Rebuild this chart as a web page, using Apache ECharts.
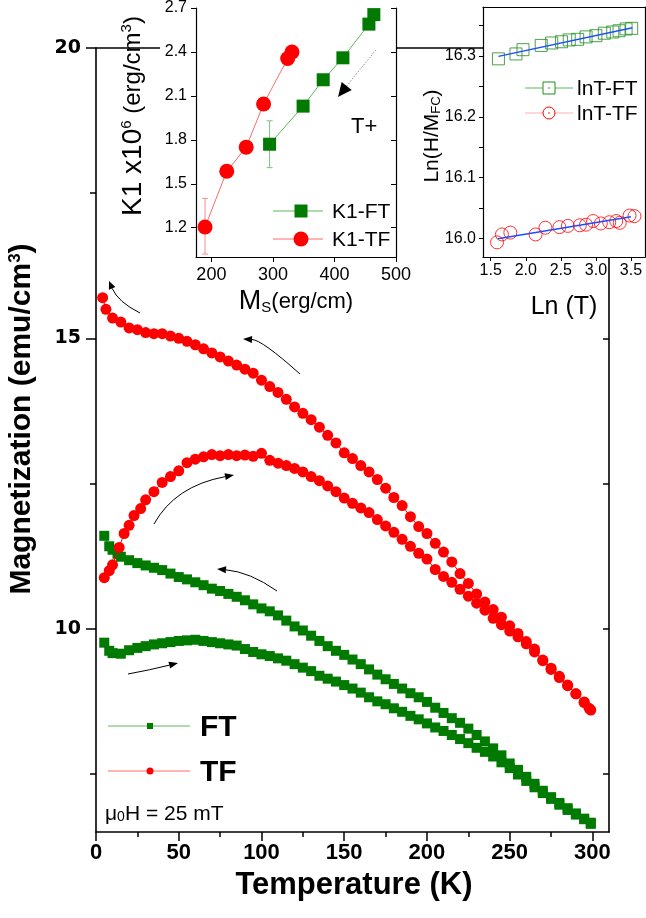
<!DOCTYPE html>
<html><head><meta charset="utf-8">
<script src="https://cdn.jsdelivr.net/npm/echarts@6.0.0/dist/echarts.min.js"></script>
<style>html,body{margin:0;padding:0;background:#fff}#c{width:646px;height:918px}</style>
</head><body><div id="c"></div>
<script>
// ---------- main panel data: [T (K), M (emu/cm3)] ----------
const ftCool = [[5,11.60],[8,11.42],[10,11.36],[13,11.29],[15,11.24],[20,11.18],[25,11.13],[30,11.09],[35,11.05],[40,11.01],[45,10.95],[50,10.89],[55,10.85],[60,10.80],[65,10.75],[70,10.69],[75,10.65],[80,10.60],[85,10.55],[90,10.49],[95,10.42],[100,10.35],[105,10.30],[110,10.23],[115,10.14],[120,10.04],[125,9.97],[130,9.88],[135,9.79],[140,9.70],[145,9.62],[150,9.55],[155,9.47],[160,9.39],[165,9.30],[170,9.21],[175,9.13],[180,9.05],[185,8.97],[190,8.89],[195,8.82],[200,8.74],[205,8.64],[210,8.55],[215,8.46],[220,8.38],[225,8.28],[230,8.17],[235,8.06],[240,7.94],[245,7.82],[250,7.68],[255,7.57],[260,7.45],[265,7.33],[270,7.21],[275,7.10],[280,7.00],[285,6.91],[290,6.82],[295,6.73],[299,6.64]];
const ftWarm = [[5,9.76],[8,9.62],[10,9.58],[15,9.57],[20,9.63],[25,9.67],[30,9.70],[35,9.73],[40,9.75],[45,9.77],[50,9.79],[55,9.80],[60,9.81],[65,9.79],[70,9.77],[75,9.75],[80,9.73],[85,9.71],[90,9.65],[95,9.60],[100,9.56],[105,9.53],[110,9.49],[115,9.45],[120,9.39],[125,9.33],[130,9.27],[135,9.19],[140,9.14],[145,9.09],[150,9.03],[155,8.97],[160,8.90],[165,8.82],[170,8.75],[175,8.70],[180,8.63],[185,8.57],[190,8.50],[195,8.44],[200,8.37],[205,8.30],[210,8.24],[215,8.17],[220,8.10],[225,8.03],[230,7.95],[235,7.88],[240,7.80],[245,7.70],[250,7.60],[255,7.49],[260,7.38],[265,7.27],[270,7.17],[275,7.07],[280,6.97],[285,6.88],[290,6.80],[295,6.72],[299,6.66]];
const tfCool = [[4,15.70],[6,15.50],[10,15.35],[15,15.28],[20,15.18],[25,15.15],[30,15.10],[35,15.08],[40,15.08],[45,15.04],[50,15.00],[55,14.95],[60,14.89],[65,14.82],[70,14.75],[75,14.68],[80,14.61],[85,14.54],[90,14.47],[95,14.40],[100,14.28],[105,14.17],[110,14.07],[115,13.95],[120,13.82],[125,13.71],[130,13.60],[135,13.47],[140,13.33],[145,13.20],[150,13.03],[155,12.93],[160,12.81],[165,12.70],[170,12.57],[175,12.42],[180,12.26],[185,12.12],[190,11.93],[195,11.76],[200,11.64],[205,11.47],[210,11.32],[215,11.15],[220,10.95],[225,10.78],[230,10.60],[235,10.46],[240,10.33],[245,10.20],[250,10.05],[255,9.92],[260,9.78],[265,9.65],[270,9.45],[275,9.30],[280,9.16],[285,9.02],[290,8.88],[295,8.73],[299,8.60]];
const tfWarm = [[5,10.88],[8,11.00],[10,11.10],[14,11.40],[17,11.64],[20,11.78],[23,11.95],[27,12.07],[30,12.22],[35,12.36],[40,12.52],[45,12.62],[50,12.72],[55,12.86],[60,12.92],[65,12.96],[70,13.00],[75,12.98],[80,13.00],[85,12.98],[90,12.99],[95,12.97],[100,13.02],[105,12.90],[110,12.85],[115,12.81],[120,12.76],[125,12.70],[130,12.62],[135,12.55],[140,12.46],[145,12.36],[150,12.25],[155,12.16],[160,12.08],[165,12.00],[170,11.88],[175,11.77],[180,11.66],[185,11.54],[190,11.42],[195,11.30],[200,11.20],[205,11.02],[210,10.90],[215,10.80],[220,10.68],[225,10.56],[230,10.44],[235,10.32],[240,10.18],[245,10.07],[250,9.96],[255,9.86],[260,9.74],[265,9.60],[270,9.46],[275,9.32],[280,9.18],[285,9.03],[290,8.88],[295,8.74],[298,8.63]];
const tempTicks = [0,50,100,150,200,250,300];
const tempMinorTicks = [25,75,125,175,225,275];
const magTicks = [10,15,20];
const magMinorTicks = [7.5,12.5,17.5];
const magRightTicks = [7.5,10,12.5,15,17.5];

// ---------- inset 1: K1 vs Ms ----------
const msFT = [294.6,349,381.7,413.7,456,464];
const k1FT = [1.77,2.03,2.21,2.36,2.59,2.655];
const msTF = [189.7,225,256.6,284.8,324,331];
const k1TF = [1.205,1.585,1.75,2.045,2.355,2.40];
const errFT = [[294.6,1.61,1.93]];
const errTF = [[189.7,1.02,1.40]];
const msTicks = [200,300,400,500];
const k1Ticks = [1.2,1.5,1.8,2.1,2.4,2.7];

// ---------- inset 2: Ln(H/M) vs Ln(T) ----------
const lnTFT = [1.61,1.86,1.96,2.22,2.37,2.51,2.62,2.74,2.86,3.00,3.12,3.24,3.33,3.43,3.51];
const lnHFT = [16.295,16.303,16.310,16.317,16.321,16.323,16.326,16.327,16.331,16.333,16.337,16.339,16.341,16.344,16.345];
const lnTTF = [1.59,1.66,1.78,2.14,2.28,2.48,2.60,2.77,2.86,2.96,3.07,3.19,3.29,3.34,3.48,3.55];
const lnHTF = [15.994,16.007,16.010,16.007,16.018,16.019,16.021,16.022,16.023,16.029,16.025,16.027,16.029,16.026,16.038,16.037];
const fitFT = [[1.61,16.299],[3.52,16.346]];
const fitTF = [[1.60,16.000],[3.50,16.036]];
const lnTTicks = [1.5,2.0,2.5,3.0,3.5];
const lnHTicks = [16.0,16.1,16.2,16.3];
const lnHMinor = [16.0,16.05,16.1,16.15,16.2,16.25,16.3,16.35];

const G = '#007a00', R = '#ff0000', LG = '#5cb85c', LR = '#ff6a6a', G2 = '#1e8c1e', BLUE = '#1f4cff';
const FONT = '"Liberation Sans", Arial, sans-serif';
const zip = (a,b) => a.map((v,i)=>[v,b[i]]);
const line = (w) => ({show:true, onZero:false, lineStyle:{color:'#000', width:w}});
const noLabel = {show:false};
const noSplit = {show:false};

const chart = echarts.init(document.getElementById('c'), null, {renderer:'canvas', width:646, height:918});

function arrow(p0, c, p1, hl, hw, style) {
  const ang = Math.atan2(p1[1]-c[1], p1[0]-c[0]);
  const bx = p1[0]-hl*Math.cos(ang), by = p1[1]-hl*Math.sin(ang);
  const nx = -Math.sin(ang), ny = Math.cos(ang);
  return [
    {type:'bezierCurve', z:20, silent:true, shape:{x1:p0[0],y1:p0[1],x2:bx,y2:by,cpx1:c[0],cpy1:c[1]}, style:Object.assign({stroke:'#000', lineWidth:1, fill:null}, style||{})},
    {type:'polygon', z:20, silent:true, shape:{points:[p1,[bx+nx*hw,by+ny*hw],[bx-nx*hw,by-ny*hw]]}, style:{fill:'#000'}}
  ];
}

const graphics = [
  // inset backgrounds
  {type:'rect', z:3, silent:true, shape:{x:160,y:0,width:236,height:257}, style:{fill:'#fff'}},
  {type:'rect', z:3, silent:true, shape:{x:483,y:7,width:163,height:250}, style:{fill:'#fff'}},
  // main axis titles
  {type:'text', z:20, x:354, y:885, style:{text:'Temperature (K)', font:'bold 31px '+FONT, fill:'#000', align:'center', verticalAlign:'middle'}},
  {type:'text', z:20, x:22, y:419, rotation:Math.PI/2, style:{text:'{a|Magnetization (emu/cm}{s|3}{a|)}', fill:'#000', align:'center', verticalAlign:'middle',
    rich:{a:{fontFamily:FONT, fontWeight:'bold', fontSize:30, fill:'#000'}, s:{fontFamily:FONT, fontWeight:'bold', fontSize:17, verticalAlign:'top', fill:'#000'}}}},
  // main legend
  {type:'line', z:20, shape:{x1:108,y1:726,x2:190,y2:726}, style:{stroke:LG, lineWidth:1}},
  {type:'rect', z:21, shape:{x:147,y:723,width:6,height:6}, style:{fill:G}},
  {type:'text', z:20, x:200, y:728, style:{text:'FT', font:'bold 30px '+FONT, fill:'#000', verticalAlign:'middle'}},
  {type:'line', z:20, shape:{x1:108,y1:771,x2:190,y2:771}, style:{stroke:LR, lineWidth:1}},
  {type:'circle', z:21, shape:{cx:150,cy:771,r:3.5}, style:{fill:R}},
  {type:'text', z:20, x:200, y:773, style:{text:'TF', font:'bold 30px '+FONT, fill:'#000', verticalAlign:'middle'}},
  {type:'text', z:20, x:105, y:814, style:{text:'{a|μ}{s|0}{a|H = 25 mT}', verticalAlign:'middle',
    rich:{a:{fontFamily:FONT, fontSize:21, fill:'#000'}, s:{fontFamily:FONT, fontSize:14, verticalAlign:'bottom', fill:'#000'}}}},
  // inset 1 titles & annotations
  {type:'text', z:20, x:133, y:116, rotation:Math.PI/2, style:{text:'{a|K1 x10}{s|6}{b| (erg/cm}{s|3}{b|)}', align:'center', verticalAlign:'middle',
    rich:{a:{fontFamily:FONT, fontSize:28, fill:'#000'}, b:{fontFamily:FONT, fontSize:24, fill:'#000'}, s:{fontFamily:FONT, fontSize:15, verticalAlign:'top', fill:'#000'}}}},
  {type:'text', z:20, x:296, y:302, style:{text:'{a|M}{s|S}{b|(erg/cm)}', align:'center', verticalAlign:'middle',
    rich:{a:{fontFamily:FONT, fontSize:27, fill:'#000'}, b:{fontFamily:FONT, fontSize:22, fill:'#000'}, s:{fontFamily:FONT, fontSize:15, verticalAlign:'bottom', fill:'#000'}}}},
  {type:'text', z:20, x:351, y:127, style:{text:'T+', font:'22px '+FONT, fill:'#000', verticalAlign:'middle'}},
  {type:'line', z:20, shape:{x1:273,y1:211,x2:323,y2:211}, style:{stroke:LG, lineWidth:1}},
  {type:'rect', z:21, shape:{x:294.5,y:204.5,width:13,height:13}, style:{fill:G}},
  {type:'text', z:20, x:332, y:212, style:{text:'K1-FT', font:'21px '+FONT, fill:'#000', verticalAlign:'middle'}},
  {type:'line', z:20, shape:{x1:273,y1:239,x2:323,y2:239}, style:{stroke:LR, lineWidth:1}},
  {type:'circle', z:21, shape:{cx:301,cy:239,r:7.5}, style:{fill:R}},
  {type:'text', z:20, x:332, y:240, style:{text:'K1-TF', font:'21px '+FONT, fill:'#000', verticalAlign:'middle'}},
  // inset 2 titles & legend
  {type:'text', z:20, x:432, y:136, rotation:Math.PI/2, style:{text:'{a|Ln(H/M}{s|FC}{a|)}', align:'center', verticalAlign:'middle',
    rich:{a:{fontFamily:FONT, fontSize:21, fill:'#000'}, s:{fontFamily:FONT, fontSize:13, verticalAlign:'bottom', fill:'#000'}}}},
  {type:'text', z:20, x:564, y:307, style:{text:'Ln (T)', font:'25px '+FONT, fill:'#000', align:'center', verticalAlign:'middle'}},
  {type:'line', z:20, shape:{x1:525,y1:88,x2:573,y2:88}, style:{stroke:LG, lineWidth:1}},
  {type:'rect', z:21, shape:{x:543,y:82,width:12,height:12}, style:{fill:'#fff', stroke:G2, lineWidth:1}},
  {type:'circle', z:22, shape:{cx:549,cy:88,r:0.8}, style:{fill:G2}},
  {type:'text', z:20, x:577, y:89, style:{text:'lnT-FT', font:'21px '+FONT, fill:'#000', verticalAlign:'middle'}},
  {type:'line', z:20, shape:{x1:525,y1:113,x2:573,y2:113}, style:{stroke:'#ffb0b0', lineWidth:1}},
  {type:'circle', z:21, shape:{cx:549,cy:113,r:6}, style:{fill:'#fff', stroke:R, lineWidth:1}},
  {type:'circle', z:22, shape:{cx:549,cy:113,r:0.8}, style:{fill:R}},
  {type:'text', z:20, x:577, y:114, style:{text:'lnT-TF', font:'21px '+FONT, fill:'#000', verticalAlign:'middle'}}
];
// main panel arrows
graphics.push(...arrow([140,313],[118,302],[109,281],8,3.5));
graphics.push(...arrow([300,374],[262,340],[243,339],9,3.5));
graphics.push(...arrow([154,524],[175,486],[234,475],9,3.5));
graphics.push(...arrow([277,591],[250,572],[217,569],9,3.5));
graphics.push(...arrow([128,674],[150,670],[178,663],9,3.5));
// inset 1 dotted arrow
graphics.push(...arrow([376,50],[357,73],[338,97],14,6.4,{stroke:'#888', lineDash:[1.5,1.5]}));

const errRender = (color) => function(params, api){
  const x = api.value(0);
  const a = api.coord([x, api.value(1)]), b = api.coord([x, api.value(2)]);
  const s = {stroke:color, lineWidth:1};
  return {type:'group', children:[
    {type:'line', shape:{x1:a[0],y1:a[1],x2:b[0],y2:b[1]}, style:s},
    {type:'line', shape:{x1:a[0]-3,y1:a[1],x2:a[0]+3,y2:a[1]}, style:s},
    {type:'line', shape:{x1:b[0]-3,y1:b[1],x2:b[0]+3,y2:b[1]}, style:s}
  ]};
};

const option = {
  animation:false,
  backgroundColor:'#fff',
  grid:[
    {left:96, top:48, width:513, height:784},
    {left:196, top:6, width:200, height:251},
    {left:483, top:7, width:162, height:250}
  ],
  xAxis:[
    {gridIndex:0, type:'value', min:0, max:310, position:'bottom', z:1, axisLine:line(1.6),
      axisTick:{show:true, customValues:tempTicks, length:9, lineStyle:{color:'#000', width:1.5}},
      axisLabel:{show:true, customValues:tempTicks, color:'#000', fontFamily:FONT, fontWeight:'bold', fontSize:22, margin:10}, splitLine:noSplit},
    {gridIndex:0, type:'value', min:0, max:310, position:'bottom', z:1, axisLine:{show:false},
      axisTick:{show:true, customValues:tempMinorTicks, length:5, lineStyle:{color:'#000', width:1.5}}, axisLabel:noLabel, splitLine:noSplit},
    {gridIndex:0, type:'value', min:0, max:310, position:'top', z:1, axisLine:line(1.6), axisTick:{show:false}, axisLabel:noLabel, splitLine:noSplit},
    {gridIndex:1, type:'value', min:175, max:500, position:'bottom', z:10, axisLine:line(1.2),
      axisTick:{show:true, customValues:msTicks, length:5, lineStyle:{color:'#000'}},
      axisLabel:{show:true, customValues:msTicks, color:'#000', fontFamily:FONT, fontSize:18, margin:9}, splitLine:noSplit},
    {gridIndex:2, type:'value', min:1.39, max:3.7, position:'bottom', z:10, axisLine:line(1.2),
      axisTick:{show:true, customValues:lnTTicks, length:4, lineStyle:{color:'#000'}},
      axisLabel:{show:true, customValues:lnTTicks, color:'#000', fontFamily:FONT, fontSize:16, margin:6, formatter:v=>v.toFixed(1)}, splitLine:noSplit},
    {gridIndex:2, type:'value', min:1.39, max:3.7, position:'top', z:10, axisLine:line(1.2), axisTick:{show:false}, axisLabel:noLabel, splitLine:noSplit}
  ],
  yAxis:[
    {gridIndex:0, type:'value', min:6.5, max:20, position:'left', z:1, axisLine:line(1.6),
      axisTick:{show:true, customValues:magTicks, length:10, lineStyle:{color:'#000', width:1.5}},
      axisLabel:{show:true, customValues:magTicks, color:'#000', fontFamily:'"DejaVu Sans", sans-serif', fontWeight:'bold', fontSize:19, margin:15}, splitLine:noSplit},
    {gridIndex:0, type:'value', min:6.5, max:20, position:'left', z:1, axisLine:{show:false},
      axisTick:{show:true, customValues:magMinorTicks, length:6, lineStyle:{color:'#000', width:1.5}}, axisLabel:noLabel, splitLine:noSplit},
    {gridIndex:0, type:'value', min:6.5, max:20, position:'right', z:1, axisLine:line(1.6),
      axisTick:{show:true, inside:true, customValues:magRightTicks, length:6, lineStyle:{color:'#000', width:1.5}}, axisLabel:noLabel, splitLine:noSplit},
    {gridIndex:1, type:'value', min:1.0, max:2.7, position:'left', z:10, axisLine:line(1.2),
      axisTick:{show:true, customValues:k1Ticks, length:5, lineStyle:{color:'#000'}},
      axisLabel:{show:true, customValues:k1Ticks, color:'#000', fontFamily:FONT, fontSize:16, margin:9, formatter:v=>v.toFixed(1)}, splitLine:noSplit},
    {gridIndex:1, type:'value', min:1.0, max:2.7, position:'right', z:10, axisLine:line(1.2),
      axisTick:{show:true, inside:true, customValues:k1Ticks, length:5, lineStyle:{color:'#000'}}, axisLabel:noLabel, splitLine:noSplit},
    {gridIndex:2, type:'value', min:15.97, max:16.38, position:'left', z:10, axisLine:line(1.2),
      axisTick:{show:true, customValues:lnHMinor, length:4, lineStyle:{color:'#000'}},
      axisLabel:{show:true, customValues:lnHTicks, color:'#000', fontFamily:FONT, fontSize:16, margin:7, formatter:v=>v.toFixed(1)}, splitLine:noSplit},
    {gridIndex:2, type:'value', min:15.97, max:16.38, position:'right', z:10, axisLine:line(1.2), axisTick:{show:false}, axisLabel:noLabel, splitLine:noSplit}
  ],
  series:[
    {type:'line', name:'FT cooling', xAxisIndex:0, yAxisIndex:0, data:ftCool, symbol:'rect', symbolSize:10, itemStyle:{color:G}, lineStyle:{color:G, width:1}, z:2},
    {type:'line', name:'FT warming', xAxisIndex:0, yAxisIndex:0, data:ftWarm, symbol:'rect', symbolSize:10, itemStyle:{color:G}, lineStyle:{color:G, width:1}, z:2},
    {type:'line', name:'TF cooling', xAxisIndex:0, yAxisIndex:0, data:tfCool, symbol:'circle', symbolSize:11, itemStyle:{color:R}, lineStyle:{color:R, width:1}, z:3},
    {type:'line', name:'TF warming', xAxisIndex:0, yAxisIndex:0, data:tfWarm, symbol:'circle', symbolSize:11, itemStyle:{color:R}, lineStyle:{color:R, width:1}, z:3},
    {type:'custom', name:'K1-FT err', xAxisIndex:3, yAxisIndex:3, data:errFT, encode:{x:0, y:[1,2]}, renderItem:errRender('#7cc47c'), z:11},
    {type:'custom', name:'K1-TF err', xAxisIndex:3, yAxisIndex:3, data:errTF, encode:{x:0, y:[1,2]}, renderItem:errRender('#ff8a8a'), z:11},
    {type:'line', name:'K1-FT', xAxisIndex:3, yAxisIndex:3, data:zip(msFT,k1FT), symbol:'rect', symbolSize:13, itemStyle:{color:G}, lineStyle:{color:LG, width:1}, z:12},
    {type:'line', name:'K1-TF', xAxisIndex:3, yAxisIndex:3, data:zip(msTF,k1TF), symbol:'circle', symbolSize:15, itemStyle:{color:R}, lineStyle:{color:LR, width:1}, z:12},
    {type:'scatter', name:'lnT-FT', xAxisIndex:4, yAxisIndex:5, data:zip(lnTFT,lnHFT), symbol:'rect', symbolSize:12, itemStyle:{color:'rgba(255,255,255,0)', borderColor:G2, borderWidth:1}, z:12},
    {type:'scatter', name:'lnT-TF', xAxisIndex:4, yAxisIndex:5, data:zip(lnTTF,lnHTF), symbol:'circle', symbolSize:13, itemStyle:{color:'rgba(255,255,255,0)', borderColor:R, borderWidth:1}, z:12},
    {type:'line', name:'fit FT', xAxisIndex:4, yAxisIndex:5, data:fitFT, showSymbol:false, symbol:'none', lineStyle:{color:BLUE, width:1.5}, z:13},
    {type:'line', name:'fit TF', xAxisIndex:4, yAxisIndex:5, data:fitTF, showSymbol:false, symbol:'none', lineStyle:{color:BLUE, width:1.5}, z:13}
  ],
  graphic:{elements:graphics}
};
chart.setOption(option);
</script></body></html>
